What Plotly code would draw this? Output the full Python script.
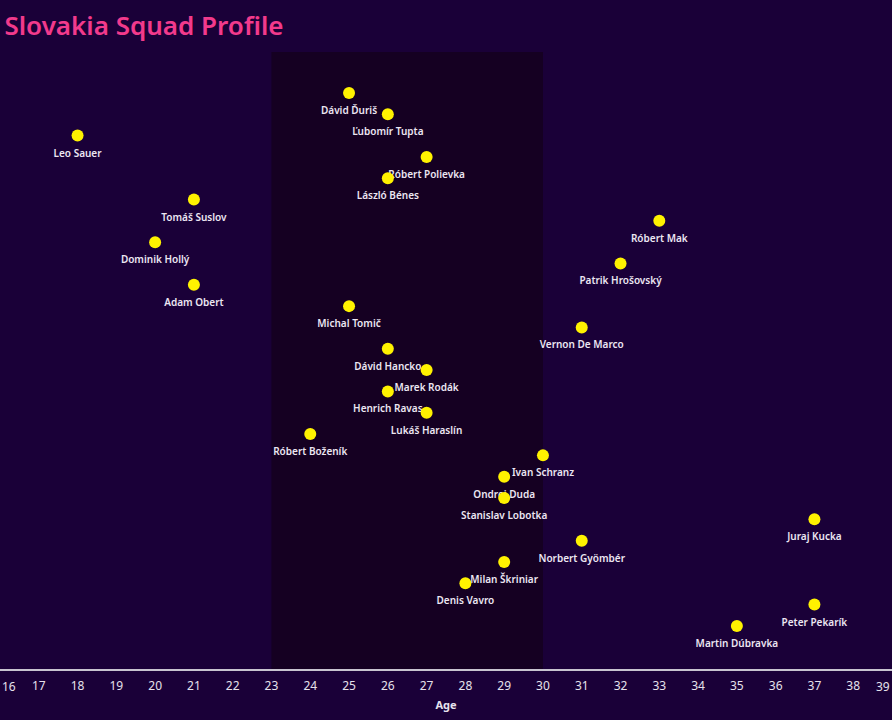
import plotly.graph_objects as go

players = ["Dávid Ďuriš", "Ľubomír Tupta", "Leo Sauer", "Róbert Polievka", "László Bénes",
           "Tomáš Suslov", "Róbert Mak", "Dominik Hollý", "Patrik Hrošovský", "Adam Obert",
           "Michal Tomič", "Vernon De Marco", "Dávid Hancko", "Marek Rodák", "Henrich Ravas",
           "Lukáš Haraslín", "Róbert Boženík", "Ivan Schranz", "Ondrej Duda", "Stanislav Lobotka",
           "Juraj Kucka", "Norbert Gyömbér", "Milan Škriniar", "Denis Vavro", "Peter Pekarík",
           "Martin Dúbravka"]
ages = [25, 26, 18, 27, 26, 21, 33, 20, 32, 21, 25, 31, 26, 27, 26, 27, 24, 30, 29, 29,
        37, 31, 29, 28, 37, 35]
rank = list(range(1, len(players) + 1))
age_min, age_max = 16, 39
tick_vals = list(range(age_min + 1, age_max))
peak_start, peak_end = 23, 30

BG = "#1a0038"
TICK_FONT = dict(color="#e6e2ec", size=12, family="Noto Sans")
fig = go.Figure()
fig.add_shape(type="rect", xref="x", yref="paper", x0=peak_start, x1=peak_end, y0=0, y1=1,
              fillcolor="#150022", line_width=0, layer="below")
# labels (invisible larger marker pushes text slightly further below the point)
fig.add_trace(go.Scatter(
    x=ages, y=rank, mode="markers+text", text=players, textposition="bottom center",
    marker=dict(color="rgba(0,0,0,0)", size=20, line=dict(width=0)),
    textfont=dict(color="#ece6f2", size=10, family="Noto Sans", weight=600),
    hoverinfo="skip", showlegend=False, cliponaxis=False))
fig.add_trace(go.Scatter(
    x=ages, y=rank, mode="markers", text=players,
    marker=dict(color="#fff200", size=12, line=dict(width=0)),
    hoverinfo="text", showlegend=False, cliponaxis=False))

# edge tick labels kept inside the chart
for v, anchor in [(age_min, "left"), (age_max, "right")]:
    fig.add_annotation(x=v, y=0, xref="x", yref="paper", yanchor="top", xanchor=anchor,
                       text=str(v), showarrow=False, yshift=-7, font=TICK_FONT)

fig.update_layout(
    width=892, height=720, paper_bgcolor=BG, plot_bgcolor=BG,
    margin=dict(l=0, r=0, t=52, b=51),
    title=dict(text="Slovakia Squad Profile", x=0.005, xanchor="left", y=0.964, yanchor="middle",
               font=dict(color="#f23a8c", size=26, family="Noto Sans", weight=600)),
    xaxis=dict(range=[age_min, age_max], tickvals=tick_vals, showgrid=False, zeroline=False,
               showline=True, linecolor="#c8c4d0", linewidth=2,
               tickfont=TICK_FONT, ticklabelstandoff=5,
               title=dict(text="<b>Age</b>", font=dict(color="#e6e2ec", size=11, family="Noto Sans"),
                          standoff=8),
               ticks="", fixedrange=True),
    yaxis=dict(range=[28.02, -0.92], visible=False, showgrid=False, zeroline=False, fixedrange=True),
)
fig.write_html("out.html", config={"displayModeBar": False},
               post_script="document.body.style.margin='0';")
